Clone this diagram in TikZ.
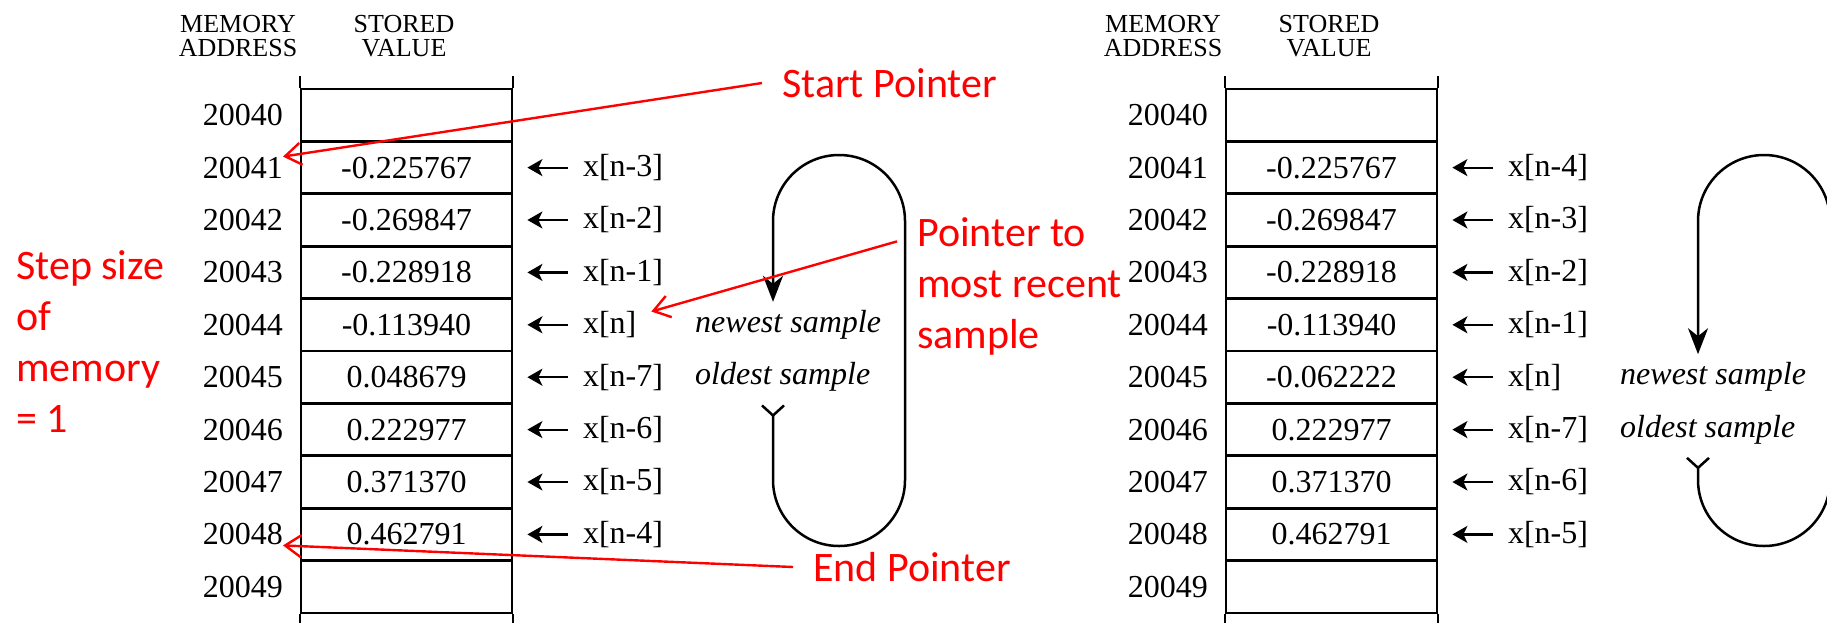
\documentclass[tikz,border=0pt]{standalone}
\usepackage{fontspec}
\setmainfont{Liberation Serif}
\newfontfamily\calibri{Carlito}
\usetikzlibrary{arrows.meta}
\definecolor{ptrred}{RGB}{255,0,0}

\tikzset{
  head/.style={align=center, inner sep=0, font=\fontsize{26}{24}\selectfont},
  addr/.style={anchor=east, inner sep=0, font=\fontsize{32}{36}\selectfont},
  cell/.style={draw, line width=2.8pt, minimum width=211pt, minimum height=52.4pt, font=\fontsize{32}{36}\selectfont},
  endcell/.style={cell, line width=1.6pt},
  lbl/.style={anchor=west, inner xsep=15pt, inner ysep=0pt, outer sep=0pt, font=\fontsize{32}{36}\selectfont},
  smp/.style={anchor=west, inner sep=0, font=\fontsize{32}{36}\selectfont\itshape},
  ptr/.style={line width=2.2pt, -{Stealth[length=15pt,width=17pt,inset=4pt]}, shorten >=14pt},
  ringline/.style={line width=2.5pt, rounded corners=66pt,
    {Straight Barb[reversed,length=10pt,width=22pt]}-{Stealth[length=26pt,width=20pt,inset=8pt]}},
  note/.style={text=ptrred, inner xsep=20pt, inner ysep=2pt, font=\calibri\fontsize{42}{51}\selectfont},
  redarrow/.style={draw=ptrred, line width=2.4pt, -{Straight Barb[length=16pt,width=22pt]}}
}

% #1 name prefix, #2 x offset, #3 row of the newest sample, #4 value/label pairs
\newcommand{\ringbuffer}[4]{%
\begin{scope}[xshift=#2]
\node[head] (#1ma) at (238,36) {MEMORY\\ADDRESS};
\node[head] (#1sv) at (404,36) {STORED\\VALUE};
\foreach \i in {0,...,9}
  \node[addr] (#1a\i) at (283,{115.2+52.4*\i}) {\the\numexpr20040+\i\relax};
\node[endcell] (#1v0) at (406.5,115.2) {};
\node[endcell] (#1v9) at (406.5,586.8) {};
\draw[line width=1.6pt] (#1v0.north west) -- ++(0,-12) (#1v0.north east) -- ++(0,-12)
  (#1v9.south west) -- ++(0,12) (#1v9.south east) -- ++(0,12);
\foreach \val/\lab [count=\i] in {#4}
{
  \node[cell] (#1v\i) at (406.5,{115.2+52.4*\i}) {\val};
  \node[lbl] (#1l\i) at (568,{115.2+52.4*\i}) {\lab};
  \draw[ptr] (#1l\i) -- (#1v\i);
}
% pointer ring
\draw[ringline] (773,{115.2+52.4*(#3+1)+27}) -- (773,546) -- (905,546)
  -- (905,155) -- (773,155) -- (773,{115.2+52.4*#3-23});
\node[smp] (#1new) at (695,{115.2+52.4*#3}) {newest sample};
\node[smp] (#1old) at (695,{115.2+52.4*(#3+1)}) {oldest sample};
\end{scope}}

\begin{document}
\begin{tikzpicture}[x=1pt,y=-1pt]
\useasboundingbox (0,0) rectangle (1827,622);

\ringbuffer{L}{0}{4}{-0.225767/x[n-3], -0.269847/x[n-2], -0.228918/x[n-1], -0.113940/x[n],
  0.048679/x[n-7], 0.222977/x[n-6], 0.371370/x[n-5], 0.462791/x[n-4]}
\ringbuffer{R}{925}{5}{-0.225767/x[n-4], -0.269847/x[n-3], -0.228918/x[n-2], -0.113940/x[n-1],
  -0.062222/x[n], 0.222977/x[n-7], 0.371370/x[n-6], 0.462791/x[n-5]}

% notes in red
\node[note, anchor=west] (sp) at (762,83) {Start Pointer};
\node[note, anchor=west] (ep) at (793,567) {End Pointer};
\node[note, anchor=west, align=left] (pm) at (897,286) {Pointer to\\most recent\\sample};
\node[note, anchor=west, align=left, inner sep=0] (stepsz) at (16,342) {Step size\\of\\memory\\= 1};
\draw[redarrow] (sp.west) -- (La1.north east);
\draw[redarrow] (ep.west) -- (La8.south east);
\draw[redarrow] (pm.160) -- (Ll4.north east);
\end{tikzpicture}
\end{document}
